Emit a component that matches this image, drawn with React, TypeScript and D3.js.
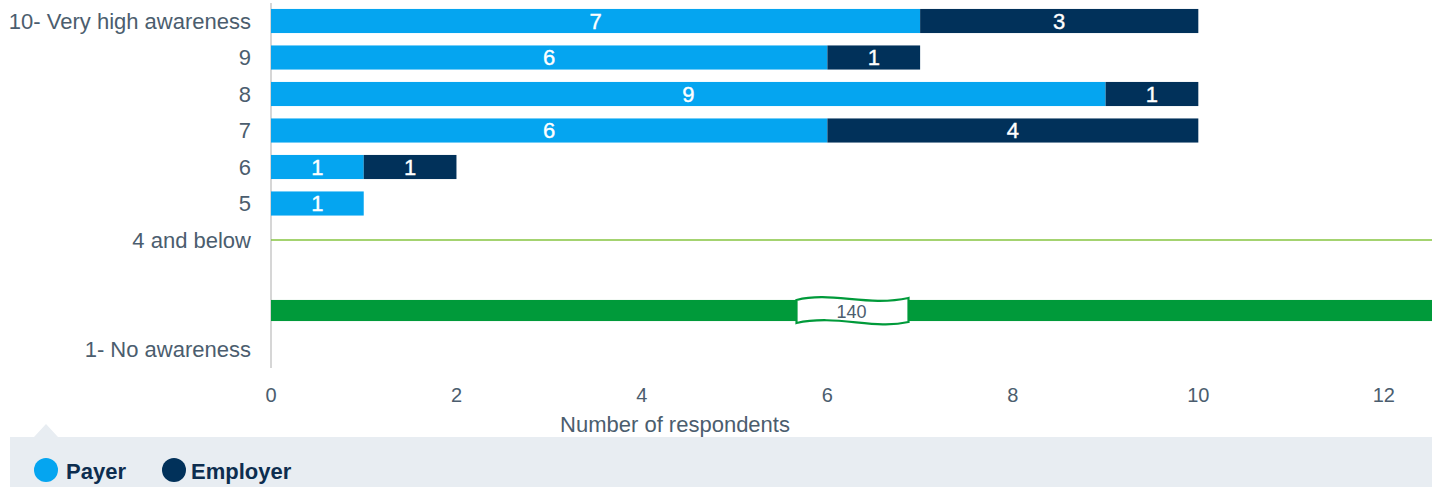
import * as d3 from 'd3';

const categories = ['10- Very high awareness', '9', '8', '7', '6', '5', '4 and below', '', 'break', '1- No awareness'];
const payer = [7, 6, 9, 6, 1, 1, 0, 0, 0, 0];
const employer = [3, 1, 1, 4, 1, 0, 0, 0, 0, 0];
const brokenIndex = 8;
const brokenValue = 140;
const lineIndex = 6;
const xTicks = [0, 2, 4, 6, 8, 10, 12];

const W = 1439;
const H = 487;
const LEFT = 271;
const RIGHT = 1432;
const PAYER = '#05a5f0';
const EMPLOYER = '#01315a';
const GREEN = '#009a3a';
const TEXT = '#4b5d6e';
const FONT = 'Liberation Sans, Arial, Helvetica, sans-serif';

export default function App() {
  const x = d3.scaleLinear().domain([0, 12.52]).range([LEFT, RIGHT]);
  const y = d3
    .scaleBand<number>()
    .domain(categories.map((_, i) => i))
    .range([2.75, 367.75])
    .paddingInner(0.34)
    .paddingOuter(0.17);
  const bh = y.bandwidth();
  const cy = (i: number) => (y(i) ?? 0) + bh / 2;

  const segs: { i: number; x0: number; x1: number; v: number; c: string }[] = [];
  categories.forEach((_, i) => {
    if (payer[i] > 0) segs.push({ i, x0: 0, x1: payer[i], v: payer[i], c: PAYER });
    if (employer[i] > 0) segs.push({ i, x0: payer[i], x1: payer[i] + employer[i], v: employer[i], c: EMPLOYER });
  });

  // broken bar, wavy white cut in the middle of the plot
  const mid = (LEFT + RIGHT) / 2;
  const by0 = (y(brokenIndex) ?? 0) - 1;
  const by1 = by0 + bh - 3;
  const bx0 = mid - 55;
  const bx1 = mid + 57;
  const breakPath =
    `M${bx0},${by0} C${bx0 + 35},${by0 - 9} ${bx0 + 70},${by0 + 7} ${bx1},${by0 - 2}` +
    ` L${bx1},${by1 + 1} C${bx1 - 35},${by1 + 9} ${bx0 + 40},${by1 - 7} ${bx0},${by1 + 2} Z`;

  return (
    <svg width={W} height={H} style={{ display: 'block', fontFamily: FONT }}>
      <style>{`body{margin:0}`}</style>
      <line x1={LEFT} x2={LEFT} y1={3} y2={368} stroke="#d6d6d6" strokeWidth={2} />

      {categories.map((c, i) =>
        c && c !== 'break' ? (
          <text key={c} x={251} y={cy(i)} dy="0.35em" textAnchor="end" fill={TEXT} fontSize={22}>
            {c}
          </text>
        ) : null
      )}

      <line x1={LEFT} x2={RIGHT} y1={cy(lineIndex)} y2={cy(lineIndex)} stroke="#86c440" strokeWidth={1.4} />

      {segs.map((s, k) => (
        <g key={k}>
          <rect x={x(s.x0)} y={y(s.i)} width={x(s.x1) - x(s.x0)} height={bh} fill={s.c} />
          <text
            x={(x(s.x0) + x(s.x1)) / 2}
            y={cy(s.i)}
            dy="0.36em"
            textAnchor="middle"
            fill="#fff"
            fontSize={22}
            stroke="#fff"
            strokeWidth={0.4}
          >
            {s.v}
          </text>
        </g>
      ))}

      <rect x={x(0)} y={by0} width={x(Math.min(brokenValue, x.domain()[1])) - x(0)} height={by1 - by0} fill={GREEN} />
      <path d={breakPath} fill="#fff" stroke={GREEN} strokeWidth={2.2} />
      <text x={mid} y={(by0 + by1) / 2 + 1} dy="0.36em" textAnchor="middle" fill={TEXT} fontSize={18}>
        {brokenValue}
      </text>

      {xTicks.map((t) => (
        <text key={t} x={x(t)} y={395} dy="0.35em" textAnchor="middle" fill={TEXT} fontSize={20}>
          {t}
        </text>
      ))}
      <text x={675} y={424} dy="0.35em" textAnchor="middle" fill={TEXT} fontSize={22}>
        Number of respondents
      </text>

      <path d="M10,437 L34,437 L46,424 L58,437 L1432,437 L1432,487 L10,487 Z" fill="#e8edf2" />
      <circle cx={46} cy={470} r={12} fill={PAYER} />
      <text x={66} y={471} dy="0.35em" fill="#0d2d4f" fontSize={22} fontWeight="bold">
        Payer
      </text>
      <circle cx={174} cy={470} r={12} fill={EMPLOYER} />
      <text x={191} y={471} dy="0.35em" fill="#0d2d4f" fontSize={22} fontWeight="bold">
        Employer
      </text>
    </svg>
  );
}
